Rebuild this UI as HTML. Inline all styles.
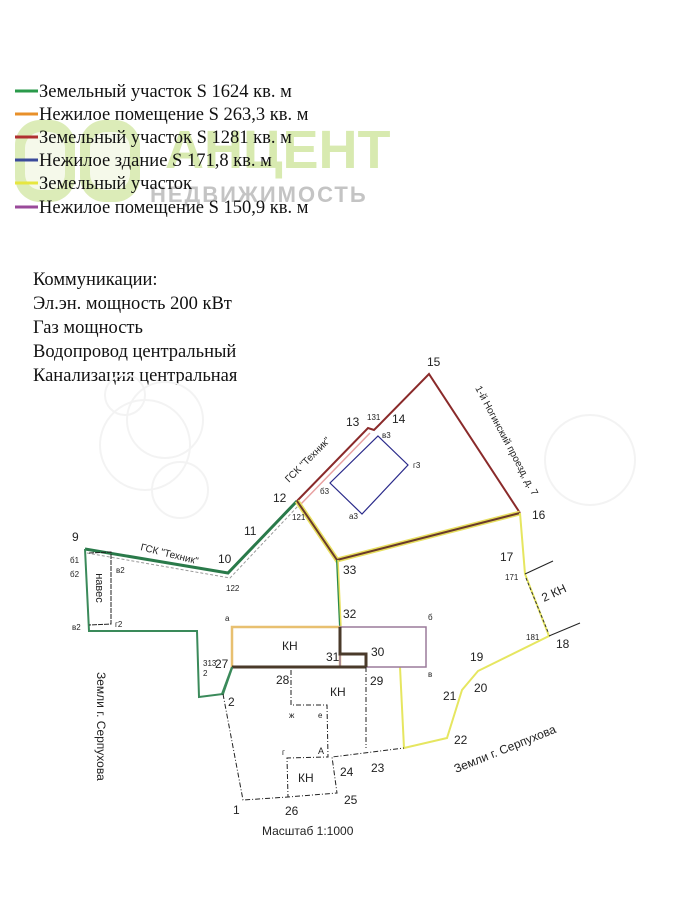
<!DOCTYPE html>
<html><head><meta charset="utf-8"><style>
body{margin:0;background:#fff;}
svg{display:block;}
text{font-family:"Liberation Sans",sans-serif;fill:#222;}
.s{font-family:"Liberation Serif","DejaVu Serif",serif;font-size:18.5px;fill:#111;}
</style></head><body>
<svg width="679" height="920" viewBox="0 0 679 920" xmlns="http://www.w3.org/2000/svg">
<rect width="679" height="920" fill="#fff"/>
<!-- watermark -->
<g fill="#dcecb8">
<rect x="15" y="120" width="60" height="82" rx="25"/>
<rect x="80" y="120" width="60" height="82" rx="25"/>
<text x="165" y="168" style="font-size:54px;font-weight:bold;fill:#d8eab0;font-family:'Liberation Sans',sans-serif">АНЦЕНТ</text>
</g>
<rect x="25" y="132" width="40" height="58" rx="16" fill="#fff" opacity="0.7"/>
<rect x="90" y="132" width="40" height="58" rx="16" fill="#fff" opacity="0.7"/>
<text x="150" y="202" style="font-size:22px;font-weight:bold;fill:#c4c4c4;letter-spacing:2px">НЕДВИЖИМОСТЬ</text>
<!-- legend -->
<g stroke-width="3">
<line x1="15" y1="91" x2="38" y2="91" stroke="#2a9a4a"/>
<line x1="15" y1="114" x2="38" y2="114" stroke="#e8902a"/>
<line x1="15" y1="137" x2="38" y2="137" stroke="#b03030"/>
<line x1="15" y1="160" x2="38" y2="160" stroke="#3a4a9a"/>
<line x1="15" y1="183" x2="38" y2="183" stroke="#e6e640"/>
<line x1="15" y1="207" x2="38" y2="207" stroke="#9a4a9a"/>
</g>
<text class="s" x="39" y="97">Земельный участок S 1624 кв. м</text>
<text class="s" x="39" y="120">Нежилое помещение S 263,3 кв. м</text>
<text class="s" x="39" y="143">Земельный участок S 1281 кв. м</text>
<text class="s" x="39" y="166">Нежилое здание S 171,8 кв. м</text>
<text class="s" x="39" y="189">Земельный участок</text>
<text class="s" x="39" y="213">Нежилое помещение S 150,9 кв. м</text>
<text class="s" x="33" y="285">Коммуникации:</text>
<text class="s" x="33" y="309">Эл.эн. мощность 200 кВт</text>
<text class="s" x="33" y="333">Газ мощность</text>
<text class="s" x="33" y="357">Водопровод центральный</text>
<text class="s" x="33" y="381">Канализация центральная</text>

<!-- faint avito watermark circles -->
<g fill="none" stroke="#f3f3f3" stroke-width="2">
<circle cx="145" cy="445" r="45"/><circle cx="180" cy="490" r="28"/><circle cx="125" cy="395" r="20"/><circle cx="165" cy="420" r="38"/>
<circle cx="590" cy="460" r="45"/>
</g>

<!-- green parcel -->
<polyline points="85,549 228,573 297,501" fill="none" stroke="#2a7a4a" stroke-width="3"/>
<polyline points="87,553 230,578 299,505" fill="none" stroke="#999" stroke-width="1" stroke-dasharray="3,2"/>
<polyline points="85,549 89,631 197,631 199,697 223,694 232,668" fill="none" stroke="#3a8a5a" stroke-width="2"/>
<!-- навес -->
<polyline points="89,553 111,552 111,624 89,625" fill="none" stroke="#222" stroke-width="1" stroke-dasharray="5,1"/>
<text x="96" y="588" transform="rotate(90 96 588)" style="font-size:11px" text-anchor="middle">навес</text>
<!-- red parcel -->
<polyline points="297,501 368,428 374,430 380,424 429,374 520,513" fill="none" stroke="#8a2a2a" stroke-width="2"/>
<line x1="300" y1="505" x2="370" y2="433" stroke="#e8a0a0" stroke-width="1.5"/>
<polyline points="297,501 337,560 520,513" fill="none" stroke="#e8e060" stroke-width="5"/>
<polyline points="297,501 337,560 520,513" fill="none" stroke="#6a3a2a" stroke-width="2"/>
<!-- blue building -->
<polygon points="378,436 408,465 362,514 330,483" fill="none" stroke="#2a2a8a" stroke-width="1.2"/>
<!-- yellow -->
<polyline points="337,560 340,627" fill="none" stroke="#2a8a4a" stroke-width="2"/>
<line x1="338" y1="560" x2="341" y2="627" stroke="#e8e060" stroke-width="1.5"/>
<polyline points="520,513 525,574 549,636 478,671 462,690 447,738 404,748 400,667" fill="none" stroke="#e6e660" stroke-width="2"/>
<line x1="526" y1="578" x2="548" y2="632" stroke="#333" stroke-width="1" stroke-dasharray="3,2"/>
<line x1="525" y1="574" x2="553" y2="561" stroke="#222" stroke-width="1"/>
<line x1="549" y1="636" x2="580" y2="623" stroke="#222" stroke-width="1"/>
<!-- rects -->
<rect x="232" y="627" width="108" height="40" fill="none" stroke="#e8c070" stroke-width="2.5"/>
<rect x="340" y="627" width="86" height="40" fill="none" stroke="#9a7a9a" stroke-width="1.5"/>
<polyline points="232,667 366,667" stroke="#4a3a2a" stroke-width="3" fill="none"/>
<polyline points="340,627 340,654 366,654 366,667" stroke="#4a3a2a" stroke-width="3" fill="none"/>
<line x1="232" y1="667" x2="222" y2="694" stroke="#3a8a5a" stroke-width="2"/>
<!-- dashed black -->
<g fill="none" stroke="#222" stroke-width="1" stroke-dasharray="5,2,1,2">
<polyline points="223,694 243,800 288,797 337,793 332,757 404,748"/>
<polyline points="291,670 291,705 327,705 328,757 287,758 288,797"/>
<line x1="366" y1="667" x2="366" y2="748"/>
</g>
<!-- labels -->
<g style="font-size:12px">
<text x="72" y="541">9</text><text x="70" y="563" style="font-size:8px">б1</text><text x="70" y="577" style="font-size:8px">б2</text>
<text x="116" y="573" style="font-size:8px">в2</text><text x="72" y="630" style="font-size:8px">в2</text><text x="115" y="627" style="font-size:8px">г2</text>
<text x="140" y="550" transform="rotate(14 140 550)" style="font-size:10px">ГСК "Техник"</text>
<text x="218" y="563">10</text><text x="226" y="591" style="font-size:8px">122</text>
<text x="244" y="535">11</text><text x="273" y="502">12</text><text x="292" y="520" style="font-size:8px">121</text>
<text x="289" y="483" transform="rotate(-45 289 483)" style="font-size:10px">ГСК "Техник"</text>
<text x="346" y="426">13</text><text x="367" y="420" style="font-size:8px">131</text><text x="392" y="423">14</text>
<text x="427" y="366">15</text><text x="532" y="519">16</text>
<text x="475" y="388" transform="rotate(62 475 388)" style="font-size:10px">1-й Ногинский проезд, д. 7</text>
<text x="382" y="438" style="font-size:8px">в3</text><text x="413" y="468" style="font-size:8px">г3</text><text x="320" y="494" style="font-size:8px">б3</text><text x="349" y="519" style="font-size:8px">а3</text>
<text x="343" y="574">33</text><text x="343" y="618">32</text>
<text x="225" y="621" style="font-size:8px">а</text><text x="428" y="620" style="font-size:8px">б</text><text x="428" y="677" style="font-size:8px">в</text>
<text x="282" y="650">КН</text><text x="326" y="661">31</text><text x="371" y="656">30</text>
<text x="203" y="666" style="font-size:8px">313</text><text x="203" y="676" style="font-size:8px">2</text>
<text x="215" y="668">27</text><text x="228" y="706">2</text>
<text x="276" y="684">28</text><text x="330" y="696">КН</text><text x="370" y="685">29</text>
<text x="289" y="718" style="font-size:8px">ж</text><text x="318" y="718" style="font-size:8px">е</text>
<text x="282" y="755" style="font-size:8px">г</text><text x="318" y="754" style="font-size:9px">А</text>
<text x="298" y="782">КН</text><text x="340" y="776">24</text><text x="371" y="772">23</text>
<text x="344" y="804">25</text><text x="285" y="815">26</text><text x="233" y="814">1</text>
<text x="500" y="561">17</text><text x="505" y="580" style="font-size:8px">171</text>
<text x="544" y="602" transform="rotate(-25 544 602)">2 КН</text>
<text x="526" y="640" style="font-size:8px">181</text><text x="556" y="648">18</text>
<text x="470" y="661">19</text><text x="474" y="692">20</text><text x="443" y="700">21</text><text x="454" y="744">22</text>
<text x="456" y="773" transform="rotate(-22 456 773)">Земли г. Серпухова</text>
<text x="97" y="672" transform="rotate(90 97 672)">Земли г. Серпухова</text>
<text x="262" y="835">Масштаб 1:1000</text>
</g>
</svg>
</body></html>
